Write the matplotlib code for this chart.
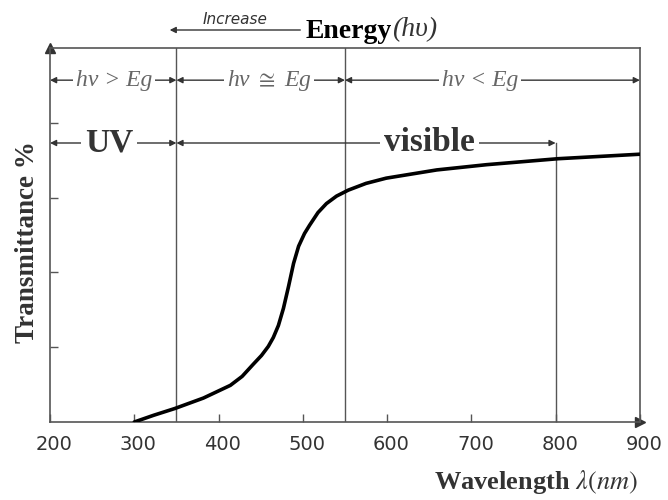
import matplotlib
matplotlib.use('Agg')
import matplotlib.pyplot as plt
from matplotlib.transforms import ScaledTranslation

plt.rcParams['mathtext.fontset'] = 'stix'

# transmittance curve (arbitrary units, 0..5)
wavelength = [300, 323, 348, 382, 414, 428, 441, 451, 459, 465, 471, 477, 483, 489, 495,
              502, 508, 518, 528, 540, 554, 575, 599, 659, 718, 803, 900]
transmit = [0.0, 0.09, 0.18, 0.32, 0.49, 0.61, 0.77, 0.89, 1.01, 1.13, 1.29, 1.52, 1.81, 2.12, 2.35,
            2.52, 2.63, 2.80, 2.92, 3.02, 3.10, 3.19, 3.26, 3.37, 3.44, 3.52, 3.58]

xticks = [200, 300, 400, 500, 600, 700, 800, 900]
yticks = [1, 2, 3, 4]
bounds = [350, 550]      # full height dividers
vis_end = 800            # end of visible band
row1 = [(200, 350, 'hν > Eg'), (350, 550, r'hν $\cong$ Eg'), (550, 900, 'hν < Eg')]
row2 = [(200, 350, 'UV'), (350, 800, 'visible')]

serif = ['Liberation Serif', 'DejaVu Serif']
dark = '#333333'
grey = '#555555'

fig = plt.figure(figsize=(6.68, 5), dpi=100)
ax = fig.add_axes([0.0749, 0.156, 0.883, 0.748])

ax.plot(wavelength, transmit, color='black', lw=2.6, solid_capstyle='round',
        solid_joinstyle='round', zorder=3)

for b in bounds:
    ax.axvline(b, color=grey, lw=1.0)
ax.plot([vis_end, vis_end], [0, 3.73], color=grey, lw=1.0)

ax.set_xlim(200, 900)
ax.set_ylim(0, 5)
ax.set_xticks(xticks)
ax.set_yticks(yticks)
ax.set_yticklabels([])
ax.tick_params(direction='in', length=6, width=1, color=grey)
ax.tick_params(axis='x', labelsize=14, labelcolor=dark, pad=9)
off = ScaledTranslation(4 / 100, 0, fig.dpi_scale_trans)
for lbl in ax.get_xticklabels():
    lbl.set_transform(lbl.get_transform() + off)
for s in ax.spines.values():
    s.set_color(grey)
    s.set_linewidth(1.2)

# axis arrow heads
ax.plot([200], [5], marker='^', ms=7, color=dark, clip_on=False)
ax.plot([900], [0], marker='>', ms=7, color=dark, clip_on=False)

# photon energy rows
row1_x = [276, 460, 710]
for (x0, x1, txt), xc in zip(row1, row1_x):
    ax.annotate('', xy=(x1, 4.57), xytext=(x0, 4.57),
                arrowprops=dict(arrowstyle='<|-|>', color=dark, lw=1.0,
                                shrinkA=0, shrinkB=0, mutation_scale=9))
    ax.text(xc, 4.57, txt, family=serif, style='italic', fontsize=17,
            color='#666666', ha='center', va='center',
            bbox=dict(facecolor='white', edgecolor='none', pad=2))

row2_x = [270, 650]
for (x0, x1, txt), xc in zip(row2, row2_x):
    ax.annotate('', xy=(x1, 3.73), xytext=(x0, 3.73),
                arrowprops=dict(arrowstyle='<|-|>', color=dark, lw=1.0,
                                shrinkA=0, shrinkB=0, mutation_scale=9))
    ax.text(xc, 3.73, txt, family=serif, fontweight='bold', fontsize=24,
            color=dark, ha='center', va='center',
            bbox=dict(facecolor='white', edgecolor='none', pad=3))

# energy header above the frame
ax.annotate('', xy=(342, 0.94), xytext=(497, 0.94),
            xycoords=('data', 'figure fraction'), textcoords=('data', 'figure fraction'),
            arrowprops=dict(arrowstyle='-|>', color=dark, lw=1.0,
                            shrinkA=0, shrinkB=0, mutation_scale=9))
fig.text(0.352, 0.962, 'Increase', family='DejaVu Sans', style='italic',
         fontsize=11, color=dark, ha='center', va='center')
fig.text(0.457, 0.938, 'Energy', family=serif, fontweight='bold', fontsize=20,
         color='black', ha='left', va='center')
fig.text(0.587, 0.94, '(hυ)', family=serif, style='italic', fontsize=20,
         color=dark, ha='left', va='center')

ax.set_ylabel('Transmittance %', family=serif, fontweight='bold', fontsize=19.5,
              color=dark)
ax.yaxis.set_label_coords(-0.017, 0.48)
fig.text(0.955, 0.036, r'Wavelength $\lambda(nm)$', family=serif, fontweight='bold',
         fontsize=19, color=dark, ha='right', va='center')

fig.savefig('out.png', dpi=100)
